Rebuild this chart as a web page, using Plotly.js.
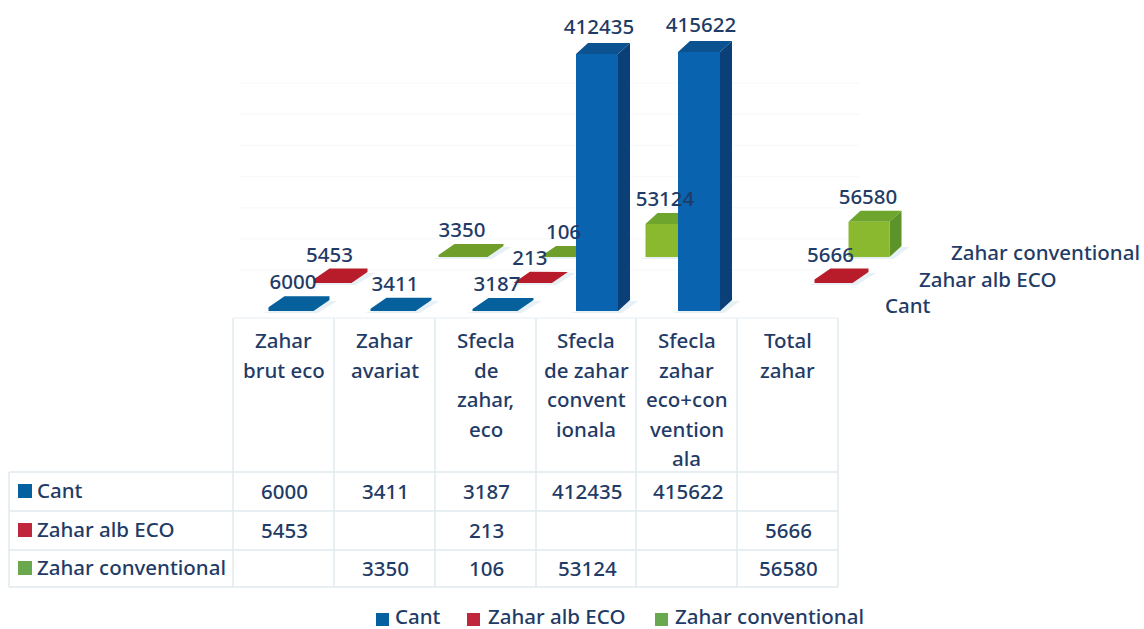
<!DOCTYPE html>
<html><head><meta charset="utf-8">
<script src="https://cdn.plot.ly/plotly-3.0.1.min.js"></script>
<style>html,body{margin:0;padding:0;background:#fff}#c{width:1144px;height:629px}</style>
</head><body><div id="c"></div>
<script>
const categories = [["Zahar","brut eco"],["Zahar","avariat"],["Sfecla","de","zahar,","eco"],["Sfecla","de zahar","convent","ionala"],["Sfecla","zahar","eco+con","vention","ala"],["Total","zahar"]];
const seriesNames = ["Cant","Zahar alb ECO","Zahar conventional"];
const cant = [6000,3411,3187,412435,415622,null];
const zaharAlb = [5453,null,213,null,null,5666];
const zaharConv = [null,3350,106,53124,null,56580];

const W=1144,H=629,FONT="Noto Sans",TXT="#1f3b66",FS=20.5;
const PXX=100.8, X0=283.5, PXV=0.000623, Y0=311;
const dX=p=>p/PXX, dV=p=>p/PXV;
const xRange=[-X0/PXX,(W-X0)/PXX], yRange=[(Y0-H)/PXV,Y0/PXV];
const px2x=p=>(p-X0)/PXX, py2v=p=>(Y0-p)/PXV, py2paper=p=>1-p/H;

const styles=[
 {name:seriesNames[2],vals:zaharConv,start:361.5,step:101.5,base:257,w:41,flatW:8,labDx:-3,front:"#8ab92f",top:"#6ea52d",side:"#5c9429",flat:"#6f9f2a",key:"#6aa84f"},
 {name:seriesNames[1],vals:zaharAlb,start:332.5,step:100.2,base:283,w:38,flatW:0,labDx:-5,front:"#c01f2e",top:"#b81c2b",side:"#8f1622",flat:"#b81c2b",key:"#c0263c"},
 {name:seriesNames[0],vals:cant,start:291,step:102,base:311,w:42,flatW:3,labDx:0,front:"#0a63ae",top:"#0c5190",side:"#0a3f77",flat:"#05609c",key:"#05609f"}
];
const DX=12,DY=11,FLATDX=16,FLATLIMIT=8000;
function faces(s){
  const sh={x:[],y:[]},f={x:[],y:[]},t={x:[],y:[]},r={x:[],y:[]},fl={x:[],y:[]},lab={x:[],y:[],t:[]};
  const poly=(o,pts)=>{pts.forEach(p=>{o.x.push(p[0]);o.y.push(p[1]);});o.x.push(null);o.y.push(null);};
  const b=py2v(s.base), h=dV(DY);
  s.vals.forEach((v,i)=>{
    if(v===null) return;
    const isFlat=v<FLATLIMIT, width=s.w+(isFlat?s.flatW:0), d=dX(isFlat?FLATDX:DX);
    const cx=px2x(s.start+s.step*i), l=cx-dX(width/2), rr=cx+dX(width/2), top=b+v;
    poly(sh,[[l-dX(6),b-dV(2)],[rr+dX(4),b-dV(2)],[rr+d+dX(8),b+h-dV(1)],[rr+dX(6),b+h-dV(1)]]);
    if(isFlat){
      poly(fl,[[l,b],[rr,b],[rr+d,b+h],[rr+d,top+h],[l+d,top+h],[l,top]]);
    }else{
      poly(r,[[rr,b],[rr+d,b+h],[rr+d,top+h],[rr,top]]);
      poly(t,[[l,top],[rr,top],[rr+d,top+h],[l+d,top+h]]);
      poly(f,[[l,b],[rr,b],[rr,top],[l,top]]);
    }
    lab.x.push(cx+dX(2+s.labDx)); lab.y.push(top+h+dV(v>300000?14:12)); lab.t.push(String(v));
  });
  return {sh,f,t,r,fl,lab};
}
const traces=[],labels=[];
const polyTrace=(o,c,n)=>({type:"scatter",mode:"lines",x:o.x,y:o.y,fill:"toself",fillcolor:c,line:{width:0,color:c},hoverinfo:"skip",showlegend:false,name:n});
const FONTOBJ={family:FONT,size:FS,color:TXT,weight:500};
styles.forEach(s=>{
  const g=faces(s);
  traces.push(polyTrace(g.sh,"#e6f0f5",s.name+" shadow"));
  traces.push(polyTrace(g.fl,s.flat,s.name));
  traces.push(polyTrace(g.r,s.side,s.name));
  traces.push(polyTrace(g.t,s.top,s.name));
  traces.push(polyTrace(g.f,s.front,s.name));
  labels.push({type:"scatter",mode:"text",x:g.lab.x,y:g.lab.y,text:g.lab.t,textposition:"middle center",textfont:FONTOBJ,hoverinfo:"skip",showlegend:false});
});

const shapes=[],ann=[];
const note=(text,px,py,anchor)=>ann.push({xref:"x",yref:"paper",x:px2x(px-(anchor==="left"?2:0)),y:py2paper(py),text,showarrow:false,xanchor:anchor||"center",yanchor:"middle",font:FONTOBJ});
const LINE="#e0eaef";
const line=(x0,y0,x1,y1,c,w)=>shapes.push({type:"line",layer:"below",xref:"x",yref:"paper",x0:px2x(x0),x1:px2x(x1),y0:py2paper(y0),y1:py2paper(y1),line:{color:c||LINE,width:w||1.5}});
const wallTicks=[0,50000,100000,150000,200000,250000,300000];
wallTicks.forEach(v=>{const py=270-v*PXV;line(240,py,860,py,"#f8fafb",1.5);});
const colX=[233,334,435,536,636,737,838], rowY=[472,511,550,587];
colX.forEach(x=>line(x,318,x,587));
line(9,472,9,587);
rowY.forEach(y=>line(9,y,838,y));
line(233,318,838,318,"#eef3f6");
categories.forEach((c,i)=>{
  const cx=(colX[i]+colX[i+1])/2;
  c.forEach((t,k)=>note(t,cx,340+k*29.6));
});
const rows=[[seriesNames[0],cant,styles[2].key],[seriesNames[1],zaharAlb,styles[1].key],[seriesNames[2],zaharConv,styles[0].key]];
const rowText=[490,529,567];
const box=(x,y,c,s)=>shapes.push({type:"rect",xref:"x",yref:"paper",x0:px2x(x),x1:px2x(x+s),y0:py2paper(y),y1:py2paper(y+s),fillcolor:c,line:{width:0}});
rows.forEach((r,k)=>{
  box(18,rowText[k]-6,r[2],14);
  note(r[0],37,rowText[k],"left");
  r[1].forEach((v,i)=>{ if(v!==null) note(String(v),(colX[i]+colX[i+1])/2+1,rowText[k]+1); });
});
note(seriesNames[2],951,252,"left");
note(seriesNames[1],919,279,"left");
note(seriesNames[0],885,305,"left");
const keyX=[376,467,655], keyT=[395,488,675];
rows.forEach((r,k)=>box(keyX[k],613,r[2],13));
traces.push({type:"scatter",mode:"text",x:keyT.map(px2x),y:keyT.map(()=>py2v(619)),text:seriesNames,textposition:"middle right",textfont:FONTOBJ,hoverinfo:"skip",showlegend:false,cliponaxis:false});

Plotly.newPlot("c",traces.concat(labels),{
  width:W,height:H,margin:{l:0,r:0,t:0,b:0},paper_bgcolor:"#fff",plot_bgcolor:"#fff",showlegend:false,
  xaxis:{range:xRange,visible:false,fixedrange:true},
  yaxis:{range:yRange,visible:false,fixedrange:true},
  shapes:shapes,annotations:ann
},{displayModeBar:false,staticPlot:true});
</script></body></html>
